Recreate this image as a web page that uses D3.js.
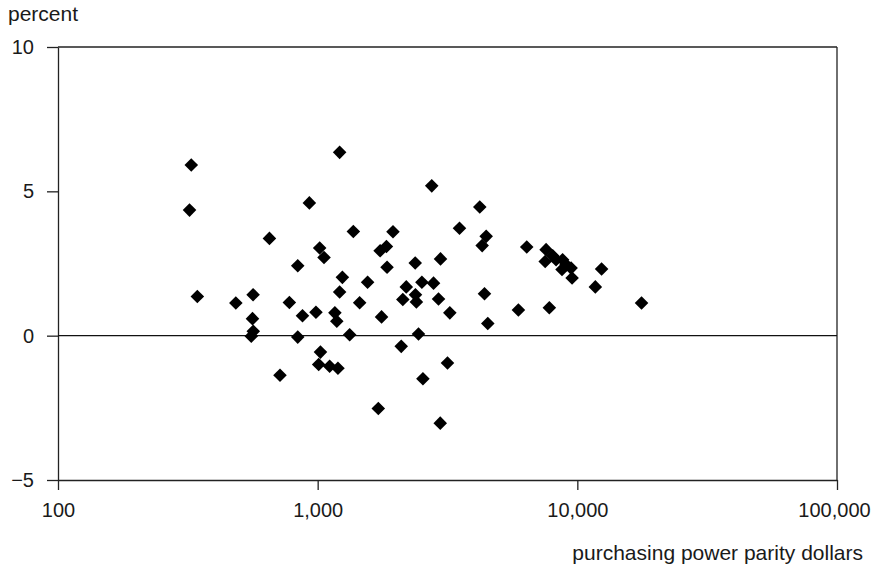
<!DOCTYPE html>
<html>
<head>
<meta charset="utf-8">
<script src="https://cdn.jsdelivr.net/npm/d3@7"></script>
<style>
  body { margin: 0; background: #fff; }
  svg { font-family: "Liberation Sans", Arial, sans-serif; }
  .axis path, .axis line { stroke: #222; stroke-width: 1.3; }
  .axis text { font-size: 20px; fill: #1a1a1a; }
  .label { font-size: 21px; fill: #1a1a1a; }
</style>
</head>
<body>
<div id="chart"></div>
<script>
// income level (ppp dollars) and growth rate (percent), one entry per country
var ppp = [
  326, 321, 344, 484, 564, 561, 565, 555, 652, 716,
  778, 838, 874, 838, 929, 985, 1018, 1058, 1025, 1009,
  1112, 1197, 1215, 1245, 1215, 1165, 1185, 1328, 1372, 1557,
  1451, 1762, 1712, 1950, 1740, 1840, 1850,
  2750, 2375, 2972, 2194, 2128, 2520, 2794, 2380, 2400, 2920,
  3228, 2445, 2098, 3162, 2543, 2965, 3517, 4210, 4456, 4300,
  4390, 4520, 6385, 5930, 7802,
  7580, 7520, 8040, 8280, 8775, 8730, 9050, 9460, 9545,
  12400, 11730, 17670
];
var growth = [
  5.91, 4.35, 1.36, 1.13, 1.42, 0.59, 0.15, -0.02, 3.37, -1.37,
  1.15, 2.42, 0.69, -0.05, 4.60, 0.81, 3.04, 2.71, -0.57, -1.00,
  -1.06, -1.13, 6.35, 2.02, 1.51, 0.79, 0.50, 0.03, 3.61, 1.85,
  1.14, 0.65, -2.52, 3.60, 2.94, 3.09, 2.37,
  5.19, 2.52, 2.66, 1.69, 1.25, 1.85, 1.82, 1.42, 1.17, 1.27,
  0.79, 0.06, -0.37, -0.95, -1.49, -3.03, 3.72, 4.46, 3.44, 3.12,
  1.45, 0.42, 3.07, 0.89, 0.97,
  2.98, 2.57, 2.77, 2.63, 2.63, 2.29, 2.46, 2.34, 2.00,
  2.31, 1.69, 1.13
];
var xTicks = [100, 1000, 10000, 100000];
var yTicks = [-5, 0, 5, 10];

var data = ppp.map(function(d, i) { return {x: d, y: growth[i]}; });

var margin = {top: 47, right: 34, bottom: 93, left: 58}
  , width = 871 - margin.left - margin.right
  , height = 573 - margin.top - margin.bottom;

var xScale = d3.scaleLog().domain([100, 100000]).range([0, width]);
var yScale = d3.scaleLinear().domain([-5, 10]).range([height, 0]);

var svg = d3.select("#chart").append("svg")
    .attr("width", 871)
    .attr("height", 573)
  .append("g")
    .attr("transform", "translate(" + margin.left + "," + margin.top + ")");

// x axis sits on the -5 line
var xAxis = svg.append("g")
    .attr("class", "x axis")
    .attr("transform", "translate(0," + height + ")")
    .call(d3.axisBottom(xScale)
      .tickValues(xTicks)
      .tickFormat(d3.format(","))
      .tickSize(10)
      .tickSizeOuter(0)
      .tickPadding(13));

// last label sits right at the page edge, nudge it in a little
xAxis.selectAll(".tick text")
    .filter(function(d) { return d === 100000; })
    .attr("dx", -3);

svg.append("g")
    .attr("class", "y axis")
    .call(d3.axisLeft(yScale)
      .tickValues(yTicks)
      .tickSize(11)
      .tickSizeOuter(0)
      .tickPadding(13));

// top and right frame
svg.append("line")
    .attr("x1", 0).attr("x2", width)
    .attr("y1", yScale(10)).attr("y2", yScale(10))
    .attr("stroke", "#222").attr("stroke-width", 1.3);
svg.append("line")
    .attr("x1", width).attr("x2", width)
    .attr("y1", 0).attr("y2", height)
    .attr("stroke", "#222").attr("stroke-width", 1.3);

// zero line
svg.append("line")
    .attr("x1", 0).attr("x2", width)
    .attr("y1", yScale(0)).attr("y2", yScale(0))
    .attr("stroke", "#111").attr("stroke-width", 1.3);

var diamond = d3.symbol().type(d3.symbolSquare).size(92);

svg.selectAll(".dot")
    .data(data)
    .enter().append("path")
    .attr("class", "dot")
    .attr("d", diamond)
    .attr("fill", "#000")
    .attr("transform", function(d) {
      return "translate(" + xScale(d.x) + "," + yScale(d.y) + ") rotate(45)";
    });

svg.append("text")
    .attr("class", "label")
    .attr("x", -50)
    .attr("y", -26)
    .text("percent");

svg.append("text")
    .attr("class", "label")
    .attr("x", width + 26)
    .attr("y", height + 80)
    .attr("text-anchor", "end")
    .text("purchasing power parity dollars");
</script>
</body>
</html>
